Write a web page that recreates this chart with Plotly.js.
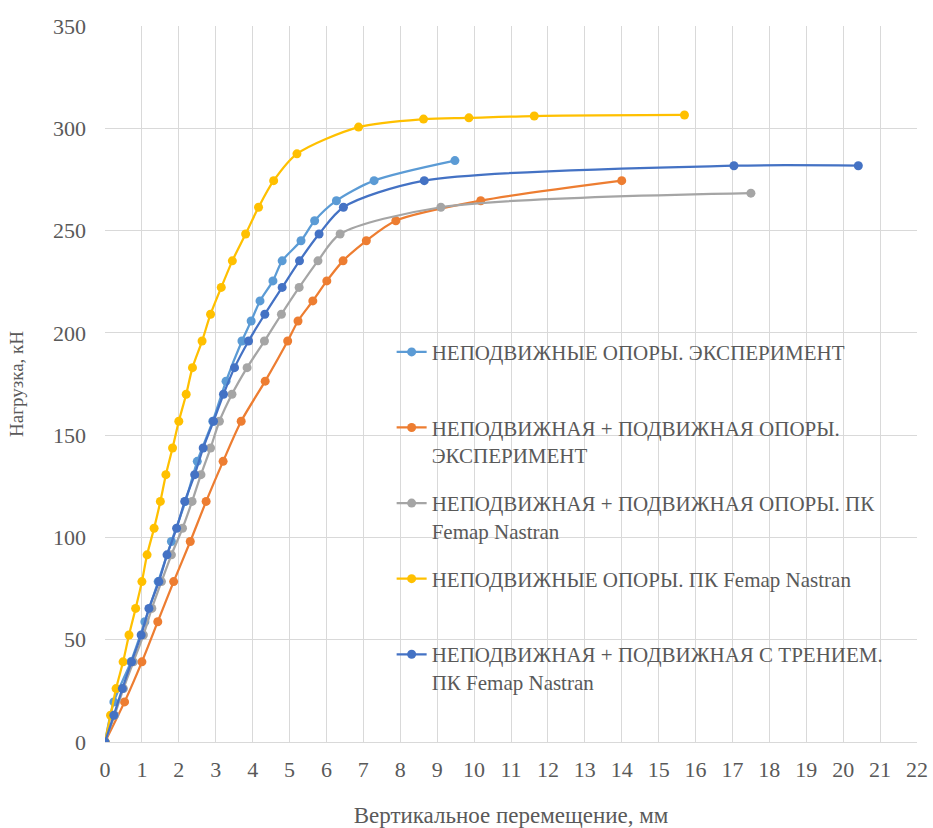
<!DOCTYPE html>
<html>
<head>
<meta charset="utf-8">
<script src="https://cdn.plot.ly/plotly-3.0.1.min.js"></script>
<style>
html,body{margin:0;padding:0;background:#fff;}
#chart{width:933px;height:828px;position:absolute;left:0;top:0;}
#chart text, #chart tspan{font-family:'Liberation Serif' !important;}
</style>
</head>
<body>
<div id="chart"></div>
<script>
// Series names
const names = [
  "НЕПОДВИЖНЫЕ ОПОРЫ. ЭКСПЕРИМЕНТ",
  "НЕПОДВИЖНАЯ + ПОДВИЖНАЯ ОПОРЫ.<br>ЭКСПЕРИМЕНТ",
  "НЕПОДВИЖНАЯ + ПОДВИЖНАЯ ОПОРЫ. ПК<br>Femap Nastran",
  "НЕПОДВИЖНЫЕ ОПОРЫ. ПК Femap Nastran",
  "НЕПОДВИЖНАЯ + ПОДВИЖНАЯ С ТРЕНИЕМ.<br>ПК Femap Nastran"
];
const colors = ["#5B9BD5", "#ED7D31", "#A5A5A5", "#FFC000", "#4472C4"];

// 1: fixed supports, experiment
const x1 = [0, 0.24, 0.70, 1.08, 1.44, 1.80, 2.18, 2.50, 2.92, 3.28, 3.71, 3.96, 4.20, 4.55, 4.80, 5.31, 5.68, 6.27, 7.29, 9.48];
const y1 = [0, 19.6, 39.2, 58.8, 78.4, 98.0, 117.6, 137.2, 156.8, 176.4, 196.0, 205.8, 215.6, 225.4, 235.2, 245.0, 254.8, 264.6, 274.4, 284.2];

// 2: fixed + movable, experiment
const x2 = [0, 0.53, 1.00, 1.43, 1.86, 2.31, 2.74, 3.20, 3.69, 4.34, 4.95, 5.23, 5.63, 6.01, 6.45, 7.08, 7.88, 10.18, 14.00];
const y2 = [0, 19.6, 39.2, 58.8, 78.4, 98.0, 117.6, 137.2, 156.8, 176.4, 196.0, 205.8, 215.6, 225.4, 235.2, 245.0, 254.8, 264.6, 274.4];

// 3: fixed + movable, Femap Nastran
const x3 = [0, 0.26, 0.50, 0.77, 1.04, 1.27, 1.53, 1.80, 2.10, 2.36, 2.60, 2.86, 3.10, 3.44, 3.85, 4.32, 4.78, 5.26, 5.77, 6.37, 9.10, 17.50];
const y3 = [0, 13.1, 26.1, 39.2, 52.3, 65.3, 78.4, 91.5, 104.5, 117.6, 130.7, 143.7, 156.8, 170.0, 183.0, 196.0, 209.1, 222.2, 235.2, 248.3, 261.4, 268.3];

// 4: fixed supports, Femap Nastran
const x4 = [0, 0.15, 0.30, 0.49, 0.65, 0.83, 1.00, 1.14, 1.33, 1.50, 1.65, 1.83, 2.00, 2.20, 2.37, 2.63, 2.86, 3.15, 3.45, 3.81, 4.16, 4.57, 5.20, 6.87, 8.63, 9.86, 11.63, 15.70];
const y4 = [0, 13.1, 26.1, 39.2, 52.3, 65.3, 78.4, 91.5, 104.5, 117.6, 130.7, 143.7, 156.8, 170.0, 183.0, 196.0, 209.1, 222.2, 235.2, 248.3, 261.4, 274.4, 287.5, 300.6, 304.5, 305.1, 306.0, 306.5];

// 5: fixed + movable with friction, Femap Nastran
const x5 = [0, 0.24, 0.47, 0.72, 0.98, 1.19, 1.46, 1.68, 1.94, 2.16, 2.43, 2.66, 2.94, 3.21, 3.51, 3.89, 4.33, 4.80, 5.27, 5.80, 6.46, 8.65, 17.04, 20.41];
const y5 = [0, 13.1, 26.1, 39.2, 52.3, 65.3, 78.4, 91.5, 104.5, 117.6, 130.7, 143.7, 156.8, 170.0, 183.0, 196.0, 209.1, 222.2, 235.2, 248.3, 261.4, 274.4, 281.7, 281.7];

const xs = [x1, x2, x3, x4, x5];
const ys = [y1, y2, y3, y4, y5];

const xTicks = [0,1,2,3,4,5,6,7,8,9,10,11,12,13,14,15,16,17,18,19,20,21,22];
const yTicks = [0,50,100,150,200,250,300,350];

const FONT = "Liberation Serif";
const traces = xs.map((x, i) => {
  let label = names[i];
  if (label.indexOf("<br>") < 0) label += "<br>&nbsp;";
  return {
    x: x, y: ys[i], type: "scatter", mode: "lines+markers",
    name: label, legendgroup: "g" + i,
    line: {color: colors[i], width: 2.25, shape: "spline", smoothing: 0.8},
    marker: {color: colors[i], size: 9},
    hoverinfo: "x+y"
  };
});

const layout = {
  width: 933, height: 828,
  margin: {l: 104.5, r: 16, t: 26, b: 86},
  paper_bgcolor: "#fff", plot_bgcolor: "#fff",
  font: {family: FONT, color: "#595959", size: 21},
  showlegend: true,
  legend: {
    x: 0.353, y: 0.573, xanchor: "left", yanchor: "top",
    bgcolor: "rgba(0,0,0,0)", traceorder: "grouped", tracegroupgap: 18,
    valign: "top", font: {family: FONT, color: "#595959", size: 21}
  },
  xaxis: {
    range: [0, 22], tickmode: "array", tickvals: xTicks, ticktext: xTicks.map(String),
    showgrid: true, gridcolor: "#D9D9D9", gridwidth: 1, zeroline: false,
    showline: true, linecolor: "#D9D9D9", linewidth: 1, ticks: "",
    ticklabelstandoff: 8,
    tickfont: {family: FONT, size: 22, color: "#595959"},
    title: {text: "Вертикальное перемещение, мм", font: {family: FONT, size: 23, color: "#595959"}, standoff: 28}
  },
  yaxis: {
    range: [0, 350], tickmode: "array", tickvals: yTicks, ticktext: yTicks.map(String),
    showgrid: true, gridcolor: "#D9D9D9", gridwidth: 1, zeroline: false,
    showline: false, ticks: "",
    ticklabelstandoff: 18,
    tickfont: {family: FONT, size: 22, color: "#595959"},
    title: {text: "Нагрузка, кН", font: {family: FONT, size: 19, color: "#595959"}, standoff: 24}
  }
};

Plotly.newPlot("chart", traces, layout, {displayModeBar: false, staticPlot: true});
</script>
</body>
</html>
